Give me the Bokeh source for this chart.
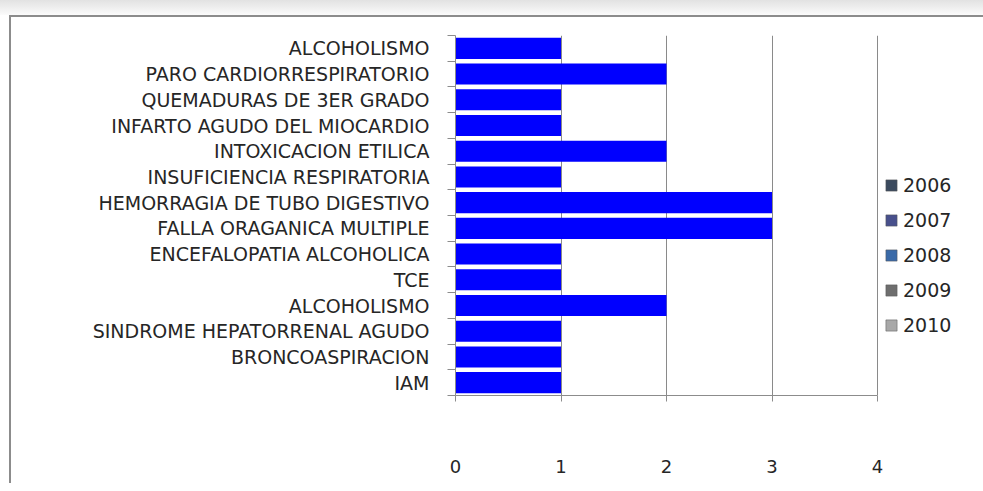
from bokeh.plotting import figure
from bokeh.models import (ColumnDataSource, Range1d, FixedTicker, Legend, LegendItem)
from bokeh.embed import file_html
from bokeh.resources import INLINE

# ---- data (top to bottom as shown) ----
causes = [
    "ALCOHOLISMO",
    "PARO CARDIORRESPIRATORIO",
    "QUEMADURAS DE 3ER GRADO",
    "INFARTO AGUDO DEL MIOCARDIO",
    "INTOXICACION ETILICA",
    "INSUFICIENCIA RESPIRATORIA",
    "HEMORRAGIA DE TUBO DIGESTIVO",
    "FALLA ORAGANICA MULTIPLE",
    "ENCEFALOPATIA ALCOHOLICA",
    "TCE",
    "ALCOHOLISMO",
    "SINDROME HEPATORRENAL AGUDO",
    "BRONCOASPIRACION",
    "IAM",
]
counts = [1, 2, 1, 1, 2, 1, 3, 3, 1, 1, 2, 1, 1, 1]
years = ["2006", "2007", "2008", "2009", "2010"]
x_ticks = [0, 1, 2, 3, 4]

year_colors = ["#3b4a5e", "#48508c", "#3a6aa8", "#6e6e6e", "#a8a8a8"]
FONT = "DejaVu Sans"

pos = list(range(len(causes)))
src = ColumnDataSource(dict(y=pos, right=counts, cause=causes))

# frame spans to the right edge so the legend is inside it; axis limited by bounds
x_end = 4 * 528 / 422
p = figure(width=983, height=483, output_backend="svg", toolbar_location=None,
           x_range=Range1d(0, x_end), y_range=Range1d(len(causes) - 0.5, -0.5),
           min_border_left=455, min_border_right=0, min_border_top=35,
           min_border_bottom=88)
p.styles = {"background": "linear-gradient(#8c8c8c,#8c8c8c) 9px 15px / 2px 100% no-repeat, "
                          "linear-gradient(#8c8c8c,#8c8c8c) 9px 15px / 100% 2px no-repeat, "
                          "linear-gradient(#e2e2e2,#fbfbfb) 0 0 / 100% 15px no-repeat, white"}
p.outline_line_color = None
p.background_fill_color = "white"
p.border_fill_color = None

p.hbar(y="y", right="right", left=0, height=0.82, source=src,
       fill_color="#0000ff", line_color=None)

# legend: one entry per year (no bars of their own)
items = []
for yr, c in zip(years, year_colors):
    r = p.hbar(y=[float("nan")], right=[float("nan")], left=0, height=0.8,
               fill_color=c, line_color="#555555", line_width=0.5)
    items.append(LegendItem(label=yr, renderers=[r]))
leg = Legend(items=items, location=(429, 59), border_line_color=None,
             background_fill_alpha=0, glyph_width=14, glyph_height=14,
             label_text_font=FONT, label_text_font_size="19px",
             label_text_color="#262626", spacing=13, label_height=21,
             padding=5, label_standoff=5, margin=0)
p.add_layout(leg, "center")

# x axis
p.xaxis.bounds = (0, 4)
p.xaxis.ticker = FixedTicker(ticks=x_ticks)
p.xaxis.major_label_overrides = {t: str(t) for t in x_ticks}
p.xaxis.axis_line_color = "#8c8c8c"
p.xaxis.major_tick_line_color = "#8c8c8c"
p.xaxis.major_tick_out = 6
p.xaxis.major_tick_in = 0
p.xaxis.minor_tick_line_color = None
p.xaxis.major_label_standoff = 58
p.xaxis.major_label_text_font = FONT
p.xaxis.major_label_text_font_size = "18px"
p.xaxis.major_label_text_color = "#262626"

# y axis
p.yaxis.ticker = FixedTicker(ticks=pos, minor_ticks=[i - 0.5 for i in range(len(causes) + 1)])
p.yaxis.major_label_overrides = {i: c for i, c in enumerate(causes)}
p.yaxis.axis_line_color = "#8c8c8c"
p.yaxis.major_tick_line_color = None
p.yaxis.minor_tick_line_color = "#8c8c8c"
p.yaxis.minor_tick_out = 8
p.yaxis.minor_tick_in = 0
p.yaxis.major_tick_out = 0
p.yaxis.major_label_standoff = 18
p.yaxis.major_label_text_font = FONT
p.yaxis.major_label_text_font_size = "19px"
p.yaxis.major_label_text_color = "#262626"

p.xgrid.ticker = FixedTicker(ticks=x_ticks)
p.xgrid.grid_line_color = "#8a8a8a"
p.ygrid.grid_line_color = None

open("out.html", "w").write(file_html(p, INLINE))
